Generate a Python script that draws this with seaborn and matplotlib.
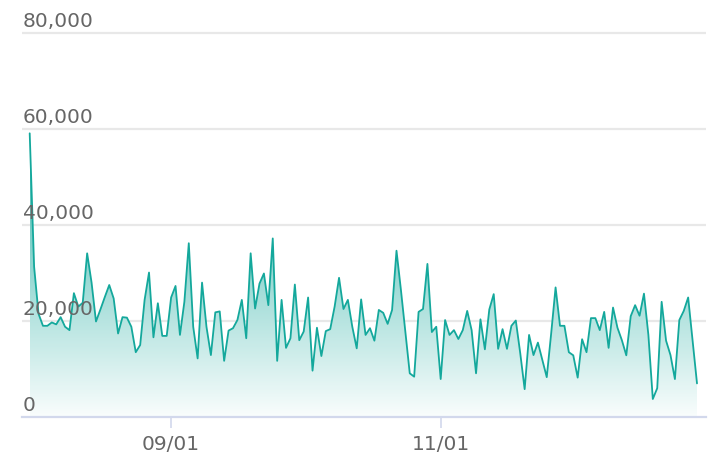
import numpy as np
import pandas as pd
import matplotlib
matplotlib.use("Agg")
import matplotlib.pyplot as plt
import matplotlib.dates as mdates
from matplotlib.colors import LinearSegmentedColormap
from matplotlib.transforms import offset_copy
import seaborn as sns

start_date = "2023-07-31"
values = [
    59100, 31300, 21500, 19000, 19000, 19700, 19300, 20800, 18800, 18100,
    25800, 23000, 23800, 34100, 28000, 19900, 22400, 25000, 27500, 24700,
    17400, 20800, 20700, 18800, 13500, 15000, 24400, 30100, 16600, 23700,
    16900, 16900, 24900, 27300, 17100, 24000, 36200, 18800, 12200, 28000,
    18800, 12900, 21800, 22000, 11700, 18000, 18500, 20200, 24400, 16400,
    34100, 22600, 27800, 29900, 23300, 37200, 11700, 24400, 14400, 16400,
    27600, 16000, 17800, 24900, 9650, 18600, 12700, 17900, 18300, 23000,
    29000, 22500, 24400, 18800, 14300, 24500, 17100, 18500, 15900, 22300,
    21700, 19400, 22300, 34650, 26500, 17800, 9100, 8400, 21900, 22500,
    31900, 17700, 18800, 7900, 20200, 17100, 18100, 16250, 18100, 22100,
    18100, 9100, 20350, 14100, 22400, 25600, 14200, 18300, 14200, 19000,
    20100, 13300, 5800, 17100, 12900, 15500, 11900, 8300, 17400, 27000,
    19000, 19000, 13500, 12850, 8200, 16200, 13500, 20600, 20600, 18100,
    21900, 14400, 22800, 18600, 16000, 12850, 21000, 23300, 21100, 25700,
    17100, 3750, 6000, 24000, 15900, 12900, 7900, 20200, 22100, 24900,
    16000, 7000,
]
y_ticks = [0, 20000, 40000, 60000, 80000]
y_tick_labels = ["0", "20,000", "40,000", "60,000", "80,000"]
x_tick_dates = ["2023-09-01", "2023-11-01"]
x_tick_labels = ["09/01", "11/01"]

dates = pd.date_range(start_date, periods=len(values), freq="D")
df = pd.DataFrame({"date": dates, "value": values})

sns.set_theme(style="white")
plt.rcParams["font.family"] = ["DejaVu Sans"]

LINE = "#14a89c"
TEXT = "#666666"
GRID = "#e8e8e8"
AXIS = "#d2d8ec"

fig = plt.figure(figsize=(7.26, 4.70), dpi=100)
ax = fig.add_axes([22 / 726, 53 / 470, 684 / 726, 392 / 470])

x0 = mdates.date2num(dates[0])
x1 = mdates.date2num(dates[-1])
ppd = (697 - 29.7) / (len(values) - 1)
xmin = x0 - (29.7 - 22) / ppd
xmax = x1 + (706 - 697) / ppd
ymax = (417 - 25) / 4.8 * 1000

for yt in y_ticks[1:]:
    ax.axhline(yt, color=GRID, lw=1.6, zorder=0)

# gradient fill under the line
fill = ax.fill_between(df["date"], df["value"], 0, color="none", lw=0)
top = max(values)
teal = matplotlib.colors.to_rgb(LINE)
cmap = LinearSegmentedColormap.from_list(
    "g", [(1, 1, 1, 1), tuple(1 - 0.85 * (1 - c) for c in teal) + (1,)])
grad = np.linspace(0.03, 1, 256).reshape(-1, 1)
im = ax.imshow(grad, cmap=cmap, vmin=0, vmax=1, aspect="auto", origin="lower",
               extent=[x0, x1, 0, top], zorder=1, interpolation="bilinear")
im.set_clip_path(fill.get_paths()[0], transform=ax.transData)

sns.lineplot(data=df, x="date", y="value", ax=ax, color=LINE, lw=1.3, zorder=3)

ax.set_xlim(xmin, xmax)
ax.set_ylim(0, ymax)

sns.despine(ax=ax, left=True, top=True, right=True)
ax.spines["bottom"].set_color(AXIS)
ax.spines["bottom"].set_linewidth(1.6)
ax.set_xlabel("")
ax.set_ylabel("")
ax.set_yticks([])
ax.set_xticks([pd.Timestamp(d) for d in x_tick_dates])
ax.set_xticklabels(x_tick_labels)
ax.tick_params(axis="x", direction="out", length=8, width=1.2, color=AXIS,
               labelsize=14.5, labelcolor=TEXT, pad=5, bottom=True)

for yt, lab in zip(y_ticks, y_tick_labels):
    tr = offset_copy(ax.get_yaxis_transform(), fig=fig, x=1, y=2, units="dots")
    ax.text(0, yt, lab, transform=tr, ha="left", va="bottom",
            fontsize=14.5, color=TEXT, clip_on=False, zorder=4)

fig.savefig("out.png", dpi=100)
